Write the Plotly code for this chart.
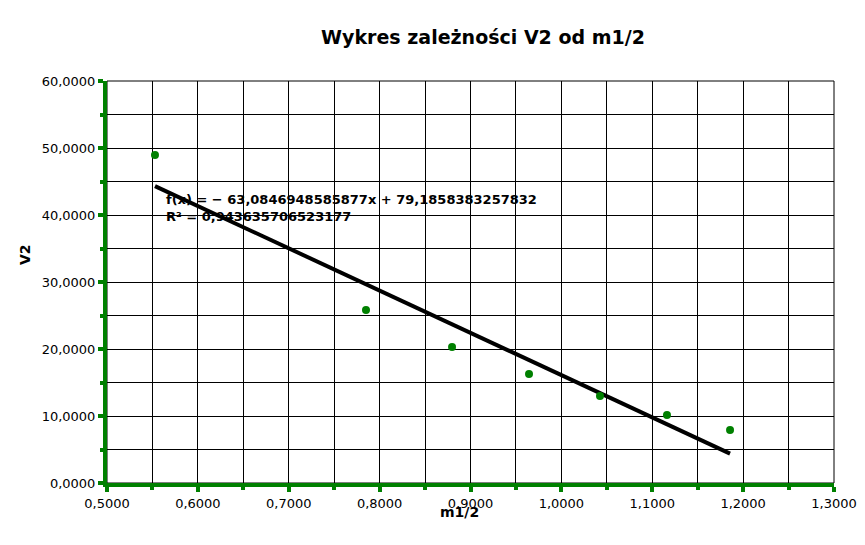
import plotly.graph_objects as go

# Data
m_half = [0.5528, 0.7850, 0.8797, 0.9644, 1.0425, 1.1162, 1.1856]
v2 = [48.96, 25.82, 20.30, 16.27, 12.99, 10.15, 7.90]

slope = -63.0846948585877
intercept = 79.1858383257832
trend_label = "<b>f(x) = − 63,0846948585877x + 79,1858383257832<br>R² = 0,943635706523177</b>"

x_ticks = [0.5, 0.6, 0.7, 0.8, 0.9, 1.0, 1.1, 1.2, 1.3]
y_ticks = [0, 10, 20, 30, 40, 50, 60]

GREEN = "#008000"
FONT = "DejaVu Sans"

trend_x = [min(m_half), max(m_half)]
trend_y = [slope * x + intercept for x in trend_x]

fig = go.Figure()
fig.add_trace(go.Scatter(x=trend_x, y=trend_y, mode="lines",
                         line=dict(color="black", width=4), hoverinfo="skip",
                         showlegend=False))
fig.add_trace(go.Scatter(x=m_half, y=v2, mode="markers",
                         marker=dict(color=GREEN, size=8, symbol="circle"),
                         showlegend=False))

W, H = 865, 545
L, R, T, B = 107, 31, 81, 62
pw, ph = W - L - R, H - T - B

fig.add_annotation(x=0.563, y=43.7, xref="x", yref="y", text=trend_label,
                   showarrow=False, xanchor="left", yanchor="top", align="left",
                   font=dict(family=FONT, size=13, color="black"))
fig.add_annotation(x=(459 - L) / pw, y=(H - B - 512) / ph, xref="paper", yref="paper",
                   xanchor="center", yanchor="middle",
                   text="<b>m1/2</b>", showarrow=False,
                   font=dict(family=FONT, size=14, color="black"))
fig.add_annotation(x=(25 - L) / pw, y=(H - B - 255) / ph, xref="paper", yref="paper",
                   xanchor="center", yanchor="middle",
                   text="<b>V2</b>", showarrow=False, textangle=-90,
                   font=dict(family=FONT, size=14, color="black"))

fig.add_shape(type="rect", xref="paper", yref="paper", x0=0, y0=0, x1=1, y1=1,
              line=dict(color="black", width=1), layer="below")

fig.update_layout(
    width=W, height=H,
    margin=dict(l=L, r=R, t=T, b=B, autoexpand=False),
    paper_bgcolor="white", plot_bgcolor="white",
    separators=",.",
    title=dict(text="<b>Wykres zależności V2 od m1/2</b>", x=483 / W, xanchor="center",
               y=1 - 37 / H, yanchor="middle",
               font=dict(family=FONT, size=19, color="black")),
    font=dict(family=FONT, size=13, color="black"),
)

fig.update_xaxes(range=[0.5, 1.3], tickvals=x_ticks, tickformat=".4f",
                 automargin=False,
                 showline=True, linecolor=GREEN, linewidth=4,
                 ticks="outside", ticklen=5, tickwidth=4, tickcolor=GREEN,
                 showgrid=True, gridcolor="black", gridwidth=1, zeroline=False,
                 minor=dict(dtick=0.05, tick0=0.5, ticks="outside", ticklen=3,
                            tickwidth=4, tickcolor=GREEN, showgrid=True,
                            gridcolor="black", gridwidth=1),
                 tickfont=dict(family=FONT, size=13, color="black"))
fig.update_yaxes(range=[0, 60], tickvals=y_ticks, tickformat=".4f",
                 automargin=False,
                 showline=True, linecolor=GREEN, linewidth=4,
                 ticks="outside", ticklen=5, tickwidth=4, tickcolor=GREEN,
                 showgrid=True, gridcolor="black", gridwidth=1, zeroline=False,
                 minor=dict(dtick=5, tick0=0, ticks="outside", ticklen=3,
                            tickwidth=4, tickcolor=GREEN, showgrid=True,
                            gridcolor="black", gridwidth=1),
                 tickfont=dict(family=FONT, size=13, color="black"))

fig.write_html("out.html", config={"displayModeBar": False})

# remove the browser's default body margin so the figure sits at the page corner
with open("out.html", encoding="utf-8") as f:
    html = f.read()
html = html.replace("<body>", '<body style="margin:0;padding:0;">', 1)
with open("out.html", "w", encoding="utf-8") as f:
    f.write(html)
